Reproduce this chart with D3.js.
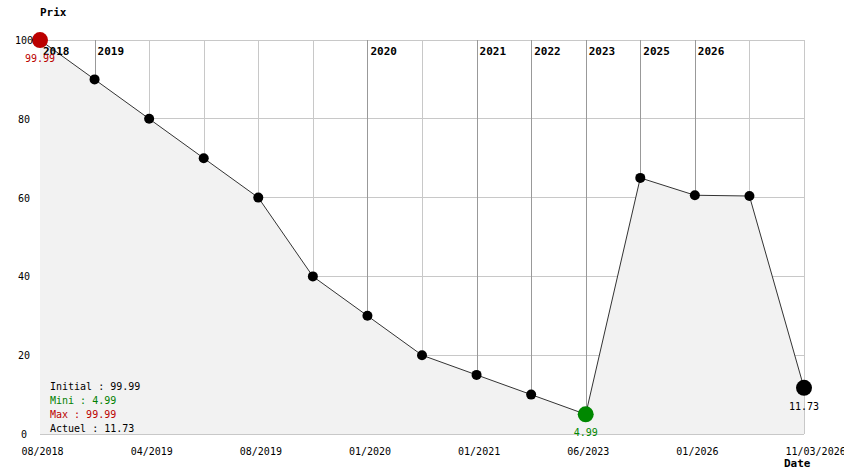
<!DOCTYPE html>
<html><head><meta charset="utf-8">
<script src="https://cdn.jsdelivr.net/npm/d3@7"></script>
<style>body{margin:0;background:#fff}svg{display:block}</style>
</head><body>
<script>
const xLabels = ["08/2018","","04/2019","","08/2019","","01/2020","","01/2021","","06/2023","","01/2026","","11/03/2026"];
const prices = [99.99, 90, 80, 70, 60, 40, 30, 20, 15, 10, 4.99, 65, 60.6, 60.4, 11.73];
const yearLabels = ["2018","2019","","","","","2020","","2021","2022","2023","2025","2026","",""];
const yTicks = [0, 20, 40, 60, 80, 100];
const stats = [["Initial : 99.99","#000"],["Mini : 4.99","#008000"],["Max : 99.99","#bb0000"],["Actuel : 11.73","#000"]];

const W = 844, H = 474;
const svg = d3.select("body").append("svg").attr("width", W).attr("height", H);
const font = "'DejaVu Sans Mono', monospace";
const idx = d3.range(prices.length);
const x = d3.scalePoint().domain(idx).range([40, 804]);
const y = d3.scaleLinear().domain([0, 100]).range([434, 40]);

// grid
svg.append("g").selectAll("line").data(yTicks).join("line")
  .attr("x1", 40).attr("x2", 804).attr("y1", d => y(d)).attr("y2", d => y(d))
  .attr("stroke", "#c8c8c8").attr("shape-rendering", "crispEdges");
svg.append("g").selectAll("line").data(idx).join("line")
  .attr("x1", d => Math.round(x(d)) + 0.5).attr("x2", d => Math.round(x(d)) + 0.5)
  .attr("y1", y(100)).attr("y2", y(0))
  .attr("stroke", d => yearLabels[d] ? "#999" : "#c8c8c8");

// area
svg.append("path").datum(idx)
  .attr("d", d3.area().x(d => x(d)).y0(y(0)).y1(d => y(prices[d])))
  .attr("fill", "#f2f2f2");
svg.append("path").datum(idx)
  .attr("d", d3.line().x(d => x(d)).y(d => y(prices[d])))
  .attr("fill", "none").attr("stroke", "#333").attr("stroke-width", 1);

// year labels
svg.append("g").selectAll("text").data(idx.filter(i => yearLabels[i])).join("text")
  .attr("x", d => x(d) + 3).attr("y", 55)
  .attr("font-family", font).attr("font-size", 11).attr("font-weight", "bold")
  .text(d => yearLabels[d]);

// points
const maxI = prices.indexOf(d3.max(prices)), minI = prices.indexOf(d3.min(prices)), lastI = prices.length - 1;
svg.append("g").selectAll("circle").data(idx).join("circle")
  .attr("cx", d => x(d)).attr("cy", d => y(prices[d]))
  .attr("r", d => (d === maxI || d === minI || d === lastI) ? 8 : 5)
  .attr("fill", d => d === maxI ? "#bb0000" : d === minI ? "#008800" : "#000");

// value labels
const vl = [[maxI, "#bb0000"], [minI, "#008800"], [lastI, "#000"]];
svg.append("g").selectAll("text").data(vl).join("text")
  .attr("x", d => x(d[0])).attr("y", d => y(prices[d[0]]) + 22)
  .attr("text-anchor", "middle").attr("font-family", font).attr("font-size", 10)
  .attr("fill", d => d[1]).text(d => prices[d[0]].toFixed(2));

// y axis labels
svg.append("g").selectAll("text").data(yTicks).join("text")
  .attr("x", 24).attr("y", d => y(d) + 4).attr("text-anchor", "middle")
  .attr("font-family", font).attr("font-size", 10).text(d => d);

// x axis labels
svg.append("g").selectAll("text").data(idx.filter(i => xLabels[i])).join("text")
  .attr("x", d => x(d) - 18.5).attr("y", 455)
  .attr("font-family", font).attr("font-size", 10).text(d => xLabels[d]);

// titles
svg.append("text").attr("x", 40).attr("y", 16).attr("font-family", font)
  .attr("font-size", 11).attr("font-weight", "bold").text("Prix");
svg.append("text").attr("x", 784).attr("y", 467).attr("font-family", font)
  .attr("font-size", 11).attr("font-weight", "bold").text("Date");

// stats
svg.append("g").selectAll("text").data(stats).join("text")
  .attr("x", 50).attr("y", (d, i) => 389.5 + i * 14.1)
  .attr("font-family", font).attr("font-size", 10).attr("fill", d => d[1]).text(d => d[0]);
</script>
</body></html>
